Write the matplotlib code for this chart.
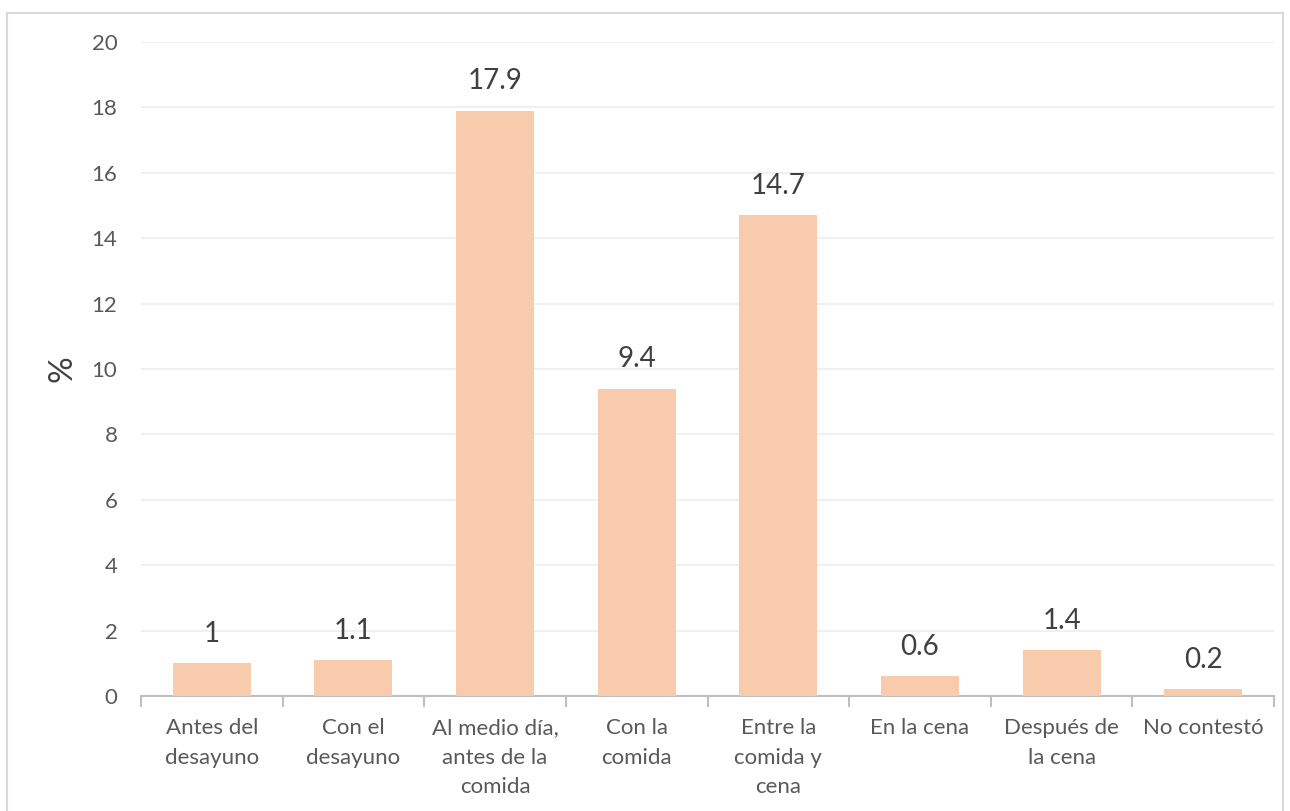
import matplotlib.pyplot as plt
from matplotlib.patches import Rectangle

# datos
categorias = ['Antes del\ndesayuno', 'Con el\ndesayuno', 'Al medio día,\nantes de la\ncomida',
              'Con la\ncomida', 'Entre la\ncomida y\ncena', 'En la cena',
              'Después de\nla cena', 'No contestó']
valores = [1, 1.1, 17.9, 9.4, 14.7, 0.6, 1.4, 0.2]
etiquetas = ['1', '1.1', '17.9', '9.4', '14.7', '0.6', '1.4', '0.2']
yticks = [0, 2, 4, 6, 8, 10, 12, 14, 16, 18, 20]

plt.rcParams['font.family'] = ['Lato', 'DejaVu Sans']

fig = plt.figure(figsize=(12.9, 8.11), dpi=100)
ax = fig.add_axes([141/1290, 1 - 696/811, (1274 - 141)/1290, (696 - 42)/811])

# borde exterior del grafico
fig.patches.append(Rectangle((7/1290, -0.01), 1276/1290, 1 - 13/811 + 0.01,
                             transform=fig.transFigure, fill=False,
                             edgecolor='#d9d9d9', linewidth=1.5))

x = list(range(len(valores)))
barras = ax.bar(x, valores, width=0.55, color='#f8cbad', zorder=3)

for xi, v, t in zip(x, valores, etiquetas):
    ax.text(xi, v + 0.5, t, ha='center', va='bottom', fontsize=20, color='#404040')

ax.set_xlim(-0.5, len(valores) - 0.5)
ax.set_ylim(0, 20)
ax.set_yticks(yticks)
ax.yaxis.grid(True, color='#f0f0f0', linewidth=1.5, zorder=0)
ax.set_axisbelow(True)

ax.set_xticks(x)
ax.set_xticklabels(categorias, fontsize=16, color='#595959', linespacing=1.6)
ax.set_xticks([i - 0.5 for i in range(len(valores) + 1)], minor=True)
ax.tick_params(axis='x', which='major', length=0, pad=16)
ax.tick_params(axis='x', which='minor', length=8, width=1.5, color='#bfbfbf')
ax.tick_params(axis='y', length=0, labelsize=16, labelcolor='#595959', pad=17)

for s in ['top', 'right', 'left']:
    ax.spines[s].set_visible(False)
ax.spines['bottom'].set_color('#bfbfbf')
ax.spines['bottom'].set_linewidth(1.5)

ax.set_ylabel('%', fontsize=24, color='#404040', labelpad=10)

plt.savefig('out.png', dpi=100)
